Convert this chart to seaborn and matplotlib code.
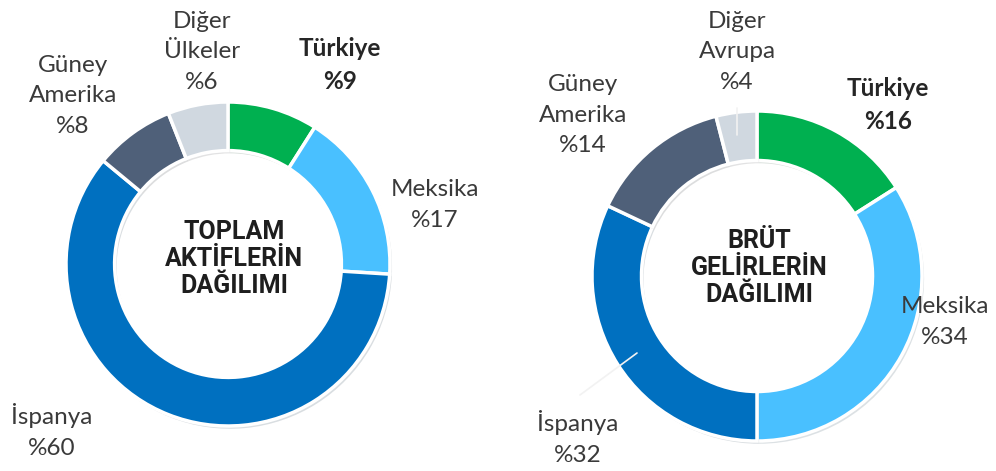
import matplotlib.pyplot as plt
import matplotlib.patheffects as pe
import seaborn as sns

# data
regions_assets = ["Türkiye", "Meksika", "İspanya", "Güney\nAmerika", "Diğer\nÜlkeler"]
share_assets = [9, 17, 60, 8, 6]
regions_income = ["Türkiye", "Meksika", "İspanya", "Güney\nAmerika", "Diğer\nAvrupa"]
share_income = [16, 34, 32, 14, 4]
titles = ["TOPLAM\nAKTİFLERİN\nDAĞILIMI", "BRÜT\nGELİRLERİN\nDAĞILIMI"]
colors = ["#00B050", "#49C0FF", "#0070C0", "#4F6079", "#D0D8E0"]

W, H = 996, 471

sns.set_theme(style="white")
plt.rcParams["font.family"] = ["Lato", "DejaVu Sans"]

fig = plt.figure(figsize=(W / 100, H / 100), dpi=100)
ax = fig.add_axes([0, 0, 1, 1])

# layout (image pixel coords, y from top)
donuts = [
    dict(center=(228, 264), r=162, title_xy=(234, 259),
         label_xy=[(340, 65), (435, 205), (52, 431), (73, 96), (202, 52)]),
    dict(center=(757, 276), r=165, title_xy=(759, 268),
         label_xy=[(888, 105), (945, 322), (578, 438), (583, 115), (737, 52)]),
]
datasets = [(regions_assets, share_assets), (regions_income, share_income)]
leaders = [[], [((737, 108), (737, 135)), ((580, 395), (637, 353))]]

shadow = [pe.SimplePatchShadow(offset=(1.5, -2), alpha=0.15), pe.Normal()]

for d, (names, vals), title, lead in zip(donuts, datasets, titles, leaders):
    cx, cy = d["center"]
    wedges, _ = ax.pie(vals, colors=colors, startangle=90, counterclock=False,
                       center=(cx, H - cy), radius=d["r"],
                       wedgeprops=dict(width=d["r"] * 0.3, edgecolor="white",
                                       linewidth=2.5))
    for w in wedges:
        w.set_path_effects(shadow)
    tx, ty = d["title_xy"]
    ax.text(tx, H - ty, title, ha="center", va="center", fontsize=18,
            fontweight="bold", color="#1E1E1E", linespacing=1.14,
            family=["Roboto", "DejaVu Sans"])
    for i, (name, v) in enumerate(zip(names, vals)):
        lx, ly = d["label_xy"][i]
        bold = name == "Türkiye"
        ax.text(lx, H - ly, f"{name}\n%{v}", ha="center", va="center",
                fontsize=17.5, linespacing=1.55,
                fontweight="bold" if bold else "normal",
                color="#262626" if bold else "#3A3A3A")
    for (x0, y0), (x1, y1) in lead:
        ax.plot([x0, x1], [H - y0, H - y1], color="#F2F2F2", lw=1.2)

ax.set_xlim(0, W)
ax.set_ylim(0, H)
ax.set_aspect("equal")
ax.set_axis_off()

fig.savefig("out.png", dpi=100, facecolor="white")
